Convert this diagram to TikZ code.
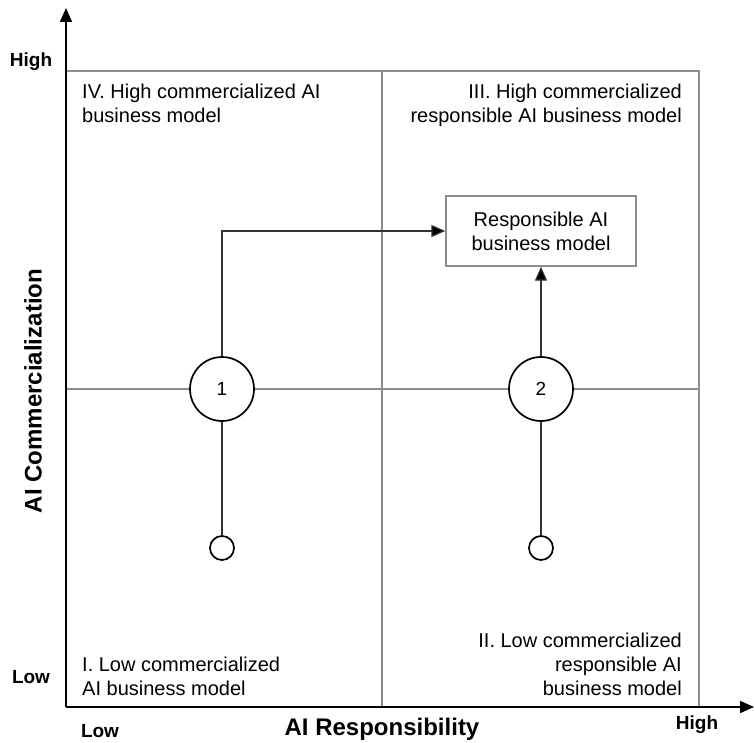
\documentclass[tikz,border=0pt]{standalone}
\usepackage{fontspec}
\setmainfont{Liberation Sans}
\usetikzlibrary{arrows.meta,positioning}
\definecolor{quadgray}{gray}{0.55}
\definecolor{linkgray}{gray}{0.2}
\def\bodyfont{\fontsize{20}{24}\selectfont}
\tikzset{
  axis/.style={black,line width=1.6pt,-{Triangle[length=14pt,width=12pt]}},
  quad/.style={quadgray,line width=1.6pt},
  bigstate/.style={circle,draw=black,fill=white,line width=1.7pt,
    minimum size=64pt,inner sep=0pt,font=\fontsize{19}{22}\selectfont},
  smallstate/.style={circle,draw=black,fill=white,line width=1.7pt,
    minimum size=24pt,inner sep=0pt},
  goal/.style={rectangle,draw=quadgray,line width=1.4pt,minimum width=190pt,
    minimum height=70pt,align=center,font=\bodyfont},
  link/.style={linkgray,line width=1.2pt},
  linkarrow/.style={link,-{Triangle[length=14pt,width=12pt,fill=black]}},
  quadtext/.style={inner sep=0pt,font=\bodyfont},
  level/.style={inner sep=0pt,font=\fontsize{19}{22}\selectfont\bfseries},
  axislabel/.style={inner sep=0pt,font=\fontsize{24}{28}\selectfont\bfseries}
}
\begin{document}
\begin{tikzpicture}[x=1pt,y=-1pt]
  \useasboundingbox (0,0) rectangle (755,743);
  % quadrants
  \draw[quad] (66,71) -- (699,71) -- (699,707);
  \draw[quad] (382,71) -- (382,707);
  \draw[quad] (66,389) -- (699,389);
  % axes
  \draw[axis] (66,707) -- (66,8);
  \draw[axis] (66,707) -- (754,707);
  % axis texts
  \node[level] (yhigh) at (31,62) {High};
  \node[level] (ylow) at (31,677) {Low};
  \node[level] (xlow) at (100,731) {Low};
  \node[level] (xhigh) at (697,725) {High};
  \node[axislabel] (xlabel) at (382,729) {AI Responsibility};
  \node[axislabel,rotate=90] (ylabel) at (33,391) {AI Commercialization};
  % quadrant names
  \node[quadtext,anchor=north west,align=left] (q4) at (82,84)
    {IV. High commercialized AI\\business model};
  \node[quadtext,anchor=north east,align=right] (q3) at (682,84)
    {III. High commercialized\\responsible AI business model};
  \node[quadtext,anchor=north east,align=right] (q2) at (682,633)
    {II. Low commercialized\\responsible AI\\business model};
  \node[quadtext,anchor=north west,align=left] (q1) at (82,657)
    {I. Low commercialized\\AI business model};
  % paths
  \node[goal] (target) at (541,231) {Responsible AI\\business model};
  \node[bigstate] (s1) at (222,389) {1};
  \node[bigstate] (s2) at (541,389) {2};
  \node[smallstate] (p1) at (222,548) {};
  \node[smallstate] (p2) at (541,548) {};
  \draw[link] (p1) -- (s1);
  \draw[link] (p2) -- (s2);
  \draw[linkarrow] (s1) |- (target);
  \draw[linkarrow] (s2) -- (target);
\end{tikzpicture}
\end{document}
